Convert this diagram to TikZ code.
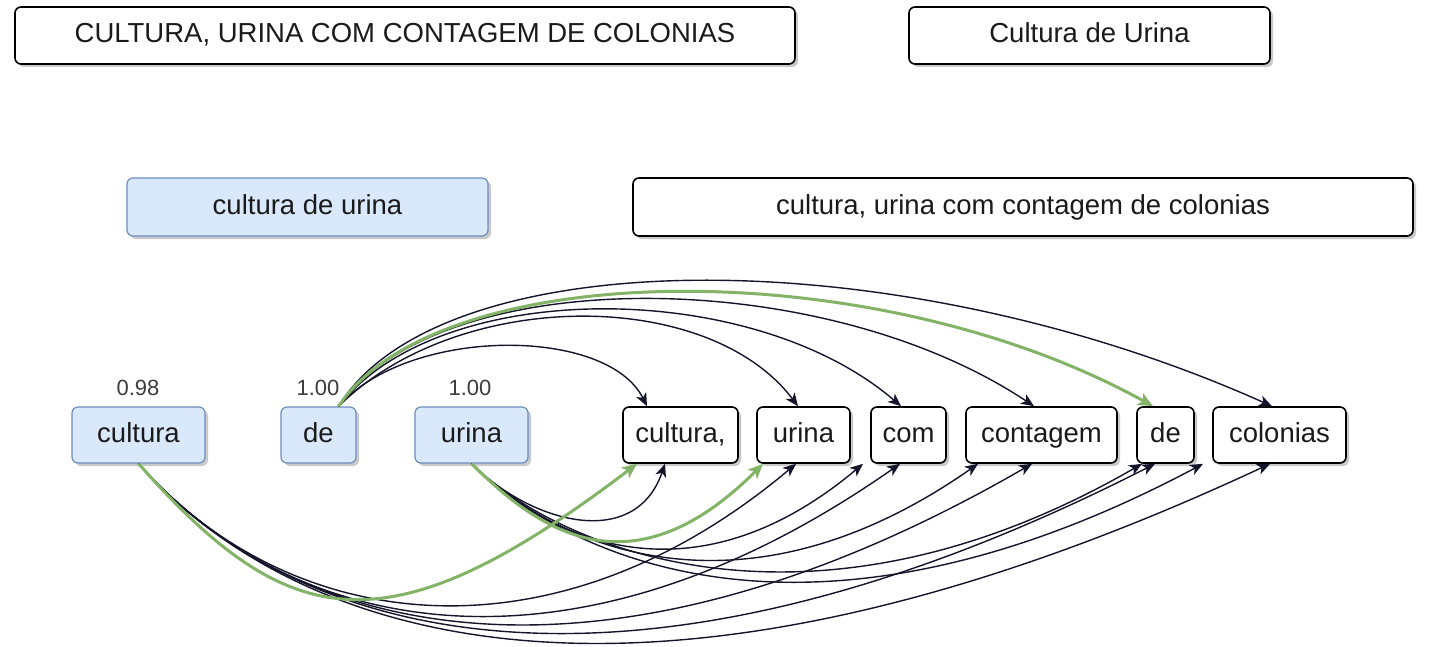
\documentclass[tikz,border=0pt]{standalone}
\usepackage{fontspec}
\setmainfont{Liberation Sans}
\usetikzlibrary{arrows.meta,shadows}
\definecolor{bluefill}{HTML}{DAE8FC}
\definecolor{blueline}{HTML}{6C8EBF}
\definecolor{greenline}{HTML}{82B366}
\definecolor{edgecol}{HTML}{14142A}
\definecolor{txt}{HTML}{1A1A1A}
\tikzset{
  box/.style={draw=black, line width=0.8pt, rounded corners=3pt, fill=white, inner sep=0pt,
    font=\fontsize{13.75}{16}\selectfont, text=txt, text height=10pt, text depth=2.8pt,
    drop shadow={shadow xshift=1.5pt, shadow yshift=-1.5pt, opacity=0.3, fill=black!70}},
  bluebox/.style={box, draw=blueline, line width=0.6pt, fill=bluefill},
  tok/.style={minimum height=28pt},
  lbl/.style={font=\fontsize{11}{13}\selectfont, text=txt!85},
  edge/.style={draw=edgecol, line width=0.7pt, -{Stealth[length=6.5pt,width=5.5pt,inset=1.8pt]}},
  gedge/.style={draw=greenline, line width=1.5pt, -{Stealth[length=7.5pt,width=6.5pt,inset=2pt]}}
}
\begin{document}
\begin{tikzpicture}[x=0.5pt, y=-0.5pt]
\useasboundingbox (0,0) rectangle (1430,647);
% top boxes
\node[box, minimum width=390pt, minimum height=28.5pt] (t1) at (405,35.5) {CULTURA, URINA COM CONTAGEM DE COLONIAS};
\node[box, minimum width=180.5pt, minimum height=28.5pt] (t2) at (1089.5,35.5) {Cultura de Urina};
\node[bluebox, minimum width=180.5pt, minimum height=29pt] (s1) at (307.5,207) {cultura de urina};
\node[box, minimum width=390pt, minimum height=29pt] (s2) at (1023,207) {cultura, urina com contagem de colonias};
% source tokens
\node[bluebox, tok, minimum width=66.5pt] (a1) at (138.5,435) {cultura};
\node[bluebox, tok, minimum width=37.5pt] (a2) at (318.5,435) {de};
\node[bluebox, tok, minimum width=56.5pt] (a3) at (471.5,435) {urina};
\node[lbl] (l1) at (138,388) {0.98};
\node[lbl] (l2) at (318,388) {1.00};
\node[lbl] (l3) at (470,388) {1.00};
% target tokens
\node[box, tok, minimum width=57.5pt] (b1) at (680.5,435) {cultura,};
\node[box, tok, minimum width=46.5pt] (b2) at (803.5,435) {urina};
\node[box, tok, minimum width=37.5pt] (b3) at (908.5,435) {com};
\node[box, tok, minimum width=75.5pt] (b4) at (1041.5,435) {contagem};
\node[box, tok, minimum width=28.5pt] (b5) at (1165.5,435) {de};
\node[box, tok, minimum width=66.5pt] (b6) at (1279.5,435) {colonias};
% top arcs from de
\draw[edge] ([xshift=10pt]a2.north) .. controls +(70,-80) and +(-40,-80) .. ([xshift=-16.75pt]b1.north);
\draw[edge] ([xshift=10pt]a2.north) .. controls +(120,-119) and +(-90,-119) .. ([xshift=-2.75pt]b2.north);
\draw[edge] ([xshift=10pt]a2.north) .. controls +(100,-129) and +(-150,-129) .. ([xshift=-3.75pt]b3.north);
\draw[edge] ([xshift=10pt]a2.north) .. controls +(100,-143) and +(-215,-143) .. ([xshift=-3.75pt]b4.north);
\draw[edge] ([xshift=10pt]a2.north) .. controls +(100,-165) and +(-380,-170) .. ([xshift=-3.75pt]b6.north);
% bottom arcs from cultura
\draw[edge] (a1.south) .. controls +(150,170) and +(-245,206) .. ([xshift=-3.75pt]b2.south);
\draw[edge] (a1.south) .. controls +(150,170) and +(-333,233) .. ([xshift=-4.25pt]b3.south);
\draw[edge] (a1.south) .. controls +(150,170) and +(-440,254) .. ([xshift=-4.75pt]b4.south);
\draw[edge] (a1.south) .. controls +(150,170) and +(-540,275) .. ([xshift=-5.25pt]b5.south);
\draw[edge] (a1.south) .. controls +(150,170) and +(-641,299) .. ([xshift=-4.75pt]b6.south);
% bottom arcs from urina
\draw[edge] (a3.south) .. controls +(60,60) and +(-30,87) .. ([xshift=-7.75pt]b1.south);
\draw[edge] (a3.south) .. controls +(80,80) and +(-168,141) .. ([xshift=-22.75pt]b3.south);
\draw[edge] (a3.south) .. controls +(80,80) and +(-240,168) .. ([xshift=-31.75pt]b4.south);
\draw[edge] (a3.south) .. controls +(80,80) and +(-338,195) .. ([xshift=-11.75pt]b5.south);
\draw[edge] (a3.south) .. controls +(80,80) and +(-412,219) .. ([xshift=-38.25pt]b6.south);
% green best matches
\draw[gedge] ([xshift=10pt]a2.north) .. controls +(100,-150) and +(-280,-155) .. ([xshift=-6.25pt]b5.north);
\draw[gedge] (a1.south) .. controls +(150,170) and +(-250,190) .. ([xshift=-21.75pt]b1.south);
\draw[gedge] (a3.south) .. controls +(70,70) and +(-130,130) .. ([xshift=-20.25pt]b2.south);
\end{tikzpicture}
\end{document}
